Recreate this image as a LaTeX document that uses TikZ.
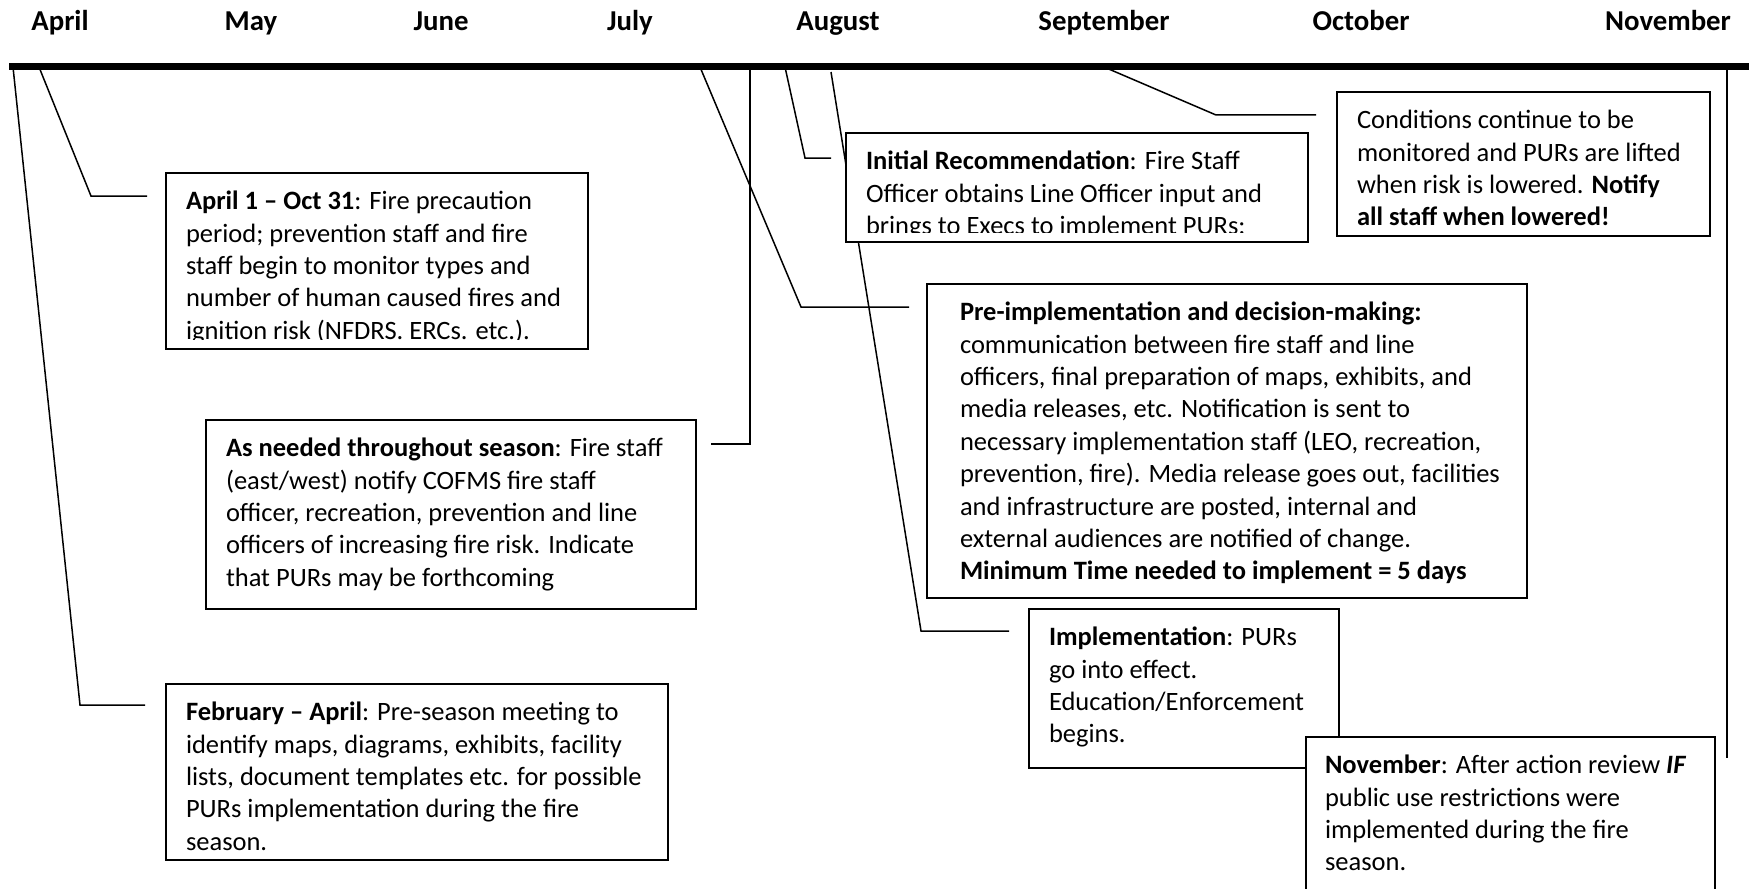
\documentclass[tikz,border=0pt]{standalone}
\usepackage{fontspec}
\setmainfont{Carlito}
\usetikzlibrary{calc,backgrounds}
\newcommand\boxfont{\fontsize{13.25}{16.2}\selectfont}
\newcommand\monthfont{\fontsize{14.4}{17}\selectfont\bfseries}
\tikzset{
  boxst/.style={draw, line width=1pt, fill=white, anchor=north west, inner sep=0pt},
  boxtext/.style={draw=none, fill=none, anchor=north west, inner sep=0pt,
    minimum width=0pt, minimum height=0pt, align=left, font=\boxfont},
  conn/.style={line width=0.75pt},
  month/.style={font=\monthfont, inner sep=0pt, anchor=base},
  bar/.style={line width=3.5pt}
}
% #1 name, #2 x, #3 y, #4 width, #5 height (px), #6 left padding (pt), #7 text
\newcommand\tlbox[7]{%
  \node[boxst, minimum width=#4*0.5pt, minimum height=#5*0.5pt,
    path picture={%
      \clip ([yshift=5pt]path picture bounding box.south west) rectangle (path picture bounding box.north east);
      \node[boxtext]
      at ([xshift=#6, yshift=-6.5pt]path picture bounding box.north west) {\strut#7};}]
    (#1) at (#2,#3) {};}
\begin{document}
\begin{tikzpicture}[x=0.5pt,y=-0.5pt]
\clip (0,0) rectangle (1749,888);
% month labels
\node[month] (mApr) at (60,31) {April};
\node[month] (mMay) at (251,31) {May};
\node[month] (mJun) at (441,31) {June};
\node[month] (mJul) at (630,31) {July};
\node[month] (mAug) at (838,31) {August};
\node[month] (mSep) at (1104,31) {September};
\node[month] (mOct) at (1361,31) {October};
\node[month] (mNov) at (1668,31) {November};
% timeline bar
\coordinate (barL) at (9,67);
\coordinate (barR) at (1749,67);
% boxes
\tlbox{apr}{165}{172}{422}{176}{9.5pt}{\textbf{April 1 – Oct 31}: Fire precaution\\period; prevention staff and fire\\staff begin to monitor types and\\number of human caused fires and\\ignition risk (NFDRS. ERCs. etc.).}
\tlbox{feb}{165}{683}{502}{176}{9.5pt}{\textbf{February – April}: Pre-season meeting to\\identify maps, diagrams, exhibits, facility\\lists, document templates etc. for possible\\PURs implementation during the fire\\season.}
\tlbox{need}{205}{419}{490}{189}{9.5pt}{\textbf{As needed throughout season}: Fire staff\\(east/west) notify COFMS fire staff\\officer, recreation, prevention and line\\officers of increasing fire risk. Indicate\\that PURs may be forthcoming}
\tlbox{init}{845}{132}{462}{109}{9.5pt}{\textbf{Initial Recommendation}: Fire Staff\\Officer obtains Line Officer input and\\brings to Execs to implement PURs:}
\tlbox{pre}{926}{283}{600}{314}{16pt}{\textbf{Pre-implementation and decision-making:}\\communication between fire staff and line\\officers, final preparation of maps, exhibits, and\\media releases, etc. Notification is sent to\\necessary implementation staff (LEO, recreation,\\prevention, fire). Media release goes out, facilities\\and infrastructure are posted, internal and\\external audiences are notified of change.\\\textbf{Minimum Time needed to implement = 5 days}}
\tlbox{impl}{1028}{608}{310}{159}{9.5pt}{\textbf{Implementation}: PURs\\go into effect.\\Education/Enforcement\\begins.}
\tlbox{cond}{1336}{91}{373}{144}{9.5pt}{Conditions continue to be\\monitored and PURs are lifted\\when risk is lowered. \textbf{Notify}\\\textbf{all staff when lowered!}}
\tlbox{nov}{1305}{736}{409}{200}{9pt}{\textbf{November}: After action review \textbf{\textit{IF}}\\public use restrictions were\\implemented during the fire\\season.}
% connectors
\coordinate (tFeb) at (13,67);  \coordinate (bFeb) at (80,705);
\coordinate (tApr) at (39,67);  \coordinate (bApr) at (91,196);
\coordinate (tNeed) at (750,67); \coordinate (bNeed) at (750,444);
\coordinate (tPre) at (700,67); \coordinate (bPre) at (801,307);
\coordinate (tInit) at (785,67); \coordinate (bInit) at (805,158);
\coordinate (tImpl) at (831,72); \coordinate (bImpl) at (921,631);
\coordinate (tCond) at (1104,67); \coordinate (bCond) at (1216,115);
\coordinate (tNov) at (1727,67); \coordinate (bNov) at (1727,758);
\begin{pgfonlayer}{background}
\draw[conn] (tFeb) -- (bFeb) -- ($(feb.west |- bFeb)+(-20,0)$);
\draw[conn] (tApr) -- (bApr) -- ($(apr.west |- bApr)+(-18,0)$);
\draw[conn] (tNeed) -- (bNeed) -- ($(need.east |- bNeed)+(14,0)$);
\draw[conn] (tPre) -- (bPre) -- ($(pre.west |- bPre)+(-17,0)$);
\draw[conn] (tInit) -- (bInit) -- ($(init.west |- bInit)+(-14,0)$);
\draw[conn] (tImpl) -- (bImpl) -- ($(impl.west |- bImpl)+(-19,0)$);
\draw[conn] (tCond) -- (bCond) -- ($(cond.west |- bCond)+(-20,0)$);
\draw[conn] (tNov) -- (bNov);
\end{pgfonlayer}
\draw[bar] (barL) -- (barR);
\end{tikzpicture}
\end{document}
